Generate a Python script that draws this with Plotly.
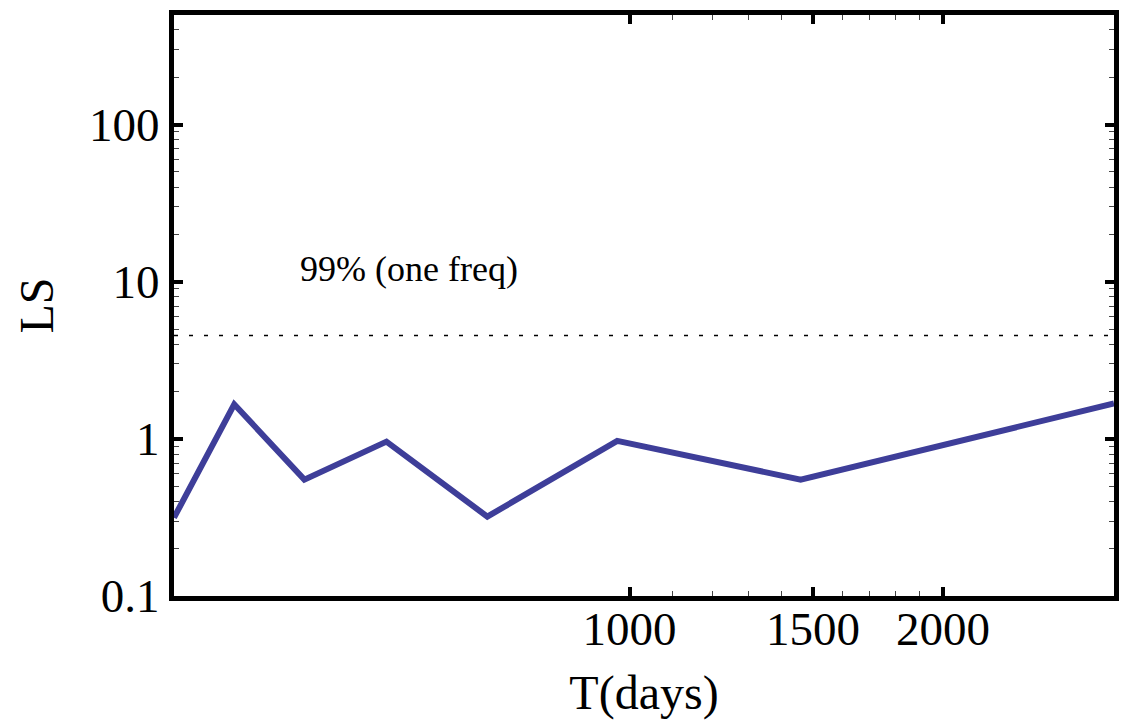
import math
import plotly.graph_objects as go

# Lomb-Scargle power at trial periods (days)
periods = [365, 417, 487, 584, 730, 973, 1460, 2920]
ls_power = [0.315, 1.66, 0.55, 0.96, 0.32, 0.97, 0.55, 1.68]

# 99% false-alarm level for a single frequency
threshold = 4.55
threshold_label = "99% (one freq)"

x_tickvals = [1000, 1500, 2000]
x_ticktext = ["1000", "1500", "2000"]
x_minor = [1100, 1200, 1300, 1400, 1600, 1700, 1800, 1900]

y_tickvals = [0.1, 1, 10, 100]
y_ticktext = ["0.1", "1", "10", "100"]
y_minor = [m * 10 ** e for e in (-1, 0, 1, 2) for m in range(2, 10)]

FONT = "Liberation Serif, Times New Roman, serif"
BLUE = "#3e3e99"

fig = go.Figure()

fig.add_trace(go.Scatter(
    x=[periods[0], periods[-1]], y=[threshold, threshold],
    mode="lines", line=dict(color="black", width=1.6, dash="4px,11px"),
    hoverinfo="skip", showlegend=False,
))

fig.add_trace(go.Scatter(
    x=periods, y=ls_power, mode="lines",
    line=dict(color=BLUE, width=6), showlegend=False,
))

fig.add_annotation(
    x=math.log10(480), y=math.log10(12.0), xref="x", yref="y",
    text=threshold_label, showarrow=False, xanchor="left", yanchor="middle",
    font=dict(family=FONT, size=36, color="black"),
)

axis_common = dict(
    type="log", showgrid=False, zeroline=False,
    showline=True, linecolor="black", linewidth=5, mirror="ticks",
    ticks="inside", ticklen=9, tickwidth=4, tickcolor="black",
    tickfont=dict(family=FONT, size=47, color="black"),
)

fig.update_xaxes(
    **axis_common,
    range=[math.log10(periods[0]), math.log10(periods[-1])],
    tickmode="array", tickvals=x_tickvals, ticktext=x_ticktext,
    ticklabelstandoff=-12,
    minor=dict(tickmode="array", tickvals=x_minor, ticks="inside",
               ticklen=5, tickwidth=1, tickcolor="#444"),
    title=dict(text="T(days)", font=dict(family=FONT, size=48, color="black"), standoff=24),
)

fig.update_yaxes(
    **axis_common,
    range=[-1, math.log10(498)],
    tickmode="array", tickvals=y_tickvals, ticktext=y_ticktext,
    minor=dict(tickmode="array", tickvals=y_minor, ticks="inside",
               ticklen=5, tickwidth=1, tickcolor="#444"),
    title=dict(text="LS", font=dict(family=FONT, size=48, color="black"), standoff=22),
)

fig.update_layout(
    width=1126, height=720,
    margin=dict(l=174, r=7, t=15, b=120),
    paper_bgcolor="white", plot_bgcolor="white",
)

fig.write_html("out.html")
